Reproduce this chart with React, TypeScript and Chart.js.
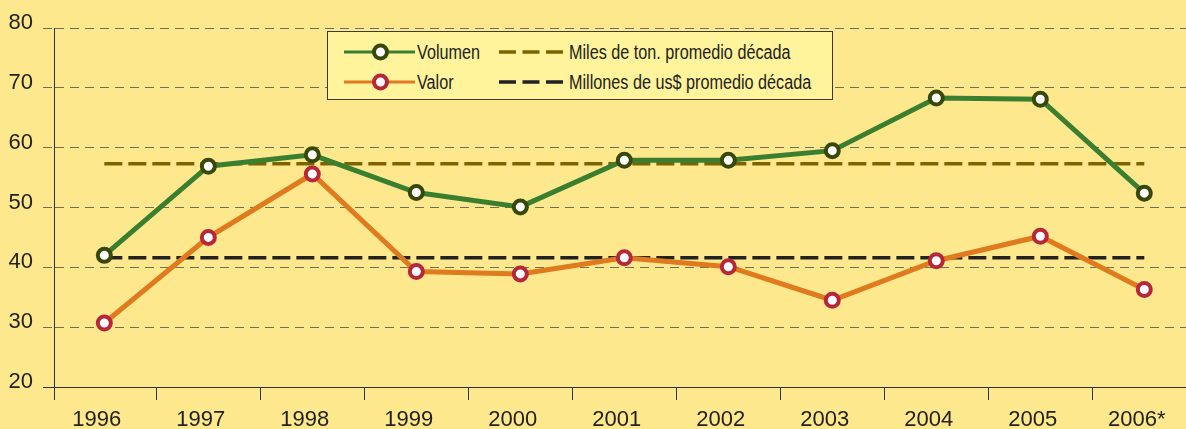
import React, { useEffect, useRef } from "react";
import { Chart, registerables } from "chart.js";

Chart.register(...registerables);

// ---- Data ----
const years = ["1996", "1997", "1998", "1999", "2000", "2001", "2002", "2003", "2004", "2005", "2006*"];
const volumen = [42.0, 56.9, 58.8, 52.5, 50.1, 57.9, 57.9, 59.5, 68.3, 68.1, 52.4];
const valor = [30.7, 45.0, 55.6, 39.3, 38.9, 41.6, 40.1, 34.5, 41.1, 45.2, 36.3];
const promedioVolumen = 57.3;
const promedioValor = 41.6;
const yTicks = [20, 30, 40, 50, 60, 70, 80];
const seriesNames = ["Volumen", "Valor", "Miles de ton. promedio década", "Millones de us$ promedio década"];

// ---- Styles ----
const BG = "#fee88d";
const LEGEND_BG = "#fff39b";
const GREEN = "#3a7f30";
const GREEN_MARK = "#384808";
const ORANGE = "#e07a1e";
const RED_MARK = "#b7273a";
const OLIVE = "#7c6300";
const BLACK = "#222222";
const AXIS = "#333333";
const GRID = "rgba(70,70,70,0.75)";
const TICK_FONT = "'Liberation Sans', Arial, Helvetica, sans-serif";
const LEGEND_FONT = "'Liberation Sans', Arial, Helvetica, sans-serif";

const legendItems = [
  { label: seriesNames[0], color: GREEN, marker: GREEN_MARK, dashed: false, left: 16, top: 5, w: 71 },
  { label: seriesNames[2], color: OLIVE, marker: null, dashed: true, left: 171, top: 5, w: 64 },
  { label: seriesNames[1], color: ORANGE, marker: RED_MARK, dashed: false, left: 16, top: 35, w: 71 },
  { label: seriesNames[3], color: BLACK, marker: null, dashed: true, left: 171, top: 35, w: 64 },
];

const axisExtension = {
  id: "axisExtension",
  afterDraw(chart: any) {
    const { ctx, chartArea } = chart;
    const x = Math.round(chartArea.left - 0.5) + 0.5;
    ctx.save();
    ctx.strokeStyle = AXIS;
    ctx.lineWidth = 1;
    ctx.beginPath();
    ctx.moveTo(x, chartArea.bottom);
    ctx.lineTo(x, chartArea.bottom + 13);
    ctx.stroke();
    ctx.restore();
  },
};

function Legend() {
  return (
    <div
      style={{
        position: "absolute",
        left: 327,
        top: 31,
        width: 506,
        height: 69,
        boxSizing: "border-box",
        border: "1px solid #3a3a3a",
        background: LEGEND_BG,
        fontFamily: LEGEND_FONT,
        fontSize: 20,
        color: "#222",
      }}
    >
      {legendItems.map((it) => (
        <div
          key={it.label}
          style={{
            position: "absolute",
            left: it.left,
            top: it.top,
            height: 30,
            display: "flex",
            alignItems: "center",
            whiteSpace: "nowrap",
          }}
        >
          <svg width={it.w} height={30} style={{ display: "block" }}>
            <line
              x1={0}
              y1={15}
              x2={it.w}
              y2={15}
              stroke={it.color}
              strokeWidth={it.dashed ? 3.5 : 3}
              strokeDasharray={it.dashed ? "17 6.5" : undefined}
            />
            {it.marker && <circle cx={it.w / 2 + 1} cy={15} r={6.5} fill="#ffffff" stroke={it.marker} strokeWidth={4} />}
          </svg>
          <span
            style={{
              marginLeft: it.dashed ? 6 : 2,
              lineHeight: "30px",
              display: "inline-block",
              transform: "scaleX(0.81)",
              transformOrigin: "left center",
            }}
          >
            {it.label}
          </span>
        </div>
      ))}
    </div>
  );
}

export default function App() {
  const canvasRef = useRef<HTMLCanvasElement | null>(null);

  useEffect(() => {
    if (!canvasRef.current) return;
    const pts = (arr: number[]) => arr.map((v, i) => ({ x: i, y: v }));
    const flat = (v: number) => years.map((_, i) => ({ x: i, y: v }));

    const chart = new Chart(canvasRef.current, {
      type: "line",
      data: {
        datasets: [
          {
            label: seriesNames[0],
            data: pts(volumen),
            borderColor: GREEN,
            borderWidth: 5,
            pointRadius: 6.5,
            pointBorderWidth: 4,
            pointBackgroundColor: "#ffffff",
            pointBorderColor: GREEN_MARK,
            tension: 0,
          },
          {
            label: seriesNames[1],
            data: pts(valor),
            borderColor: ORANGE,
            borderWidth: 5,
            pointRadius: 6.5,
            pointBorderWidth: 4,
            pointBackgroundColor: "#ffffff",
            pointBorderColor: RED_MARK,
            tension: 0,
          },
          {
            label: seriesNames[2],
            data: flat(promedioVolumen),
            borderColor: OLIVE,
            borderWidth: 3.5,
            borderDash: [18, 6],
            pointRadius: 0,
            tension: 0,
          },
          {
            label: seriesNames[3],
            data: flat(promedioValor),
            borderColor: BLACK,
            borderWidth: 3.5,
            borderDash: [18, 6],
            pointRadius: 0,
            tension: 0,
          },
        ],
      },
      options: {
        animation: false,
        responsive: true,
        maintainAspectRatio: false,
        layout: { autoPadding: false, padding: { top: 28, right: 0, bottom: 0, left: 0 } },
        plugins: { legend: { display: false }, tooltip: { enabled: false } },
        scales: {
          x: {
            type: "linear",
            min: -0.484,
            max: 10.401,
            afterBuildTicks: (s: any) => {
              s.ticks = years.map((_, i) => ({ value: i }));
            },
            afterFit: (s: any) => {
              s.height = 42;
              s.paddingLeft = 0;
              s.paddingRight = 0;
            },
            ticks: {
              callback: (v: any) => years[v],
              autoSkip: false,
              maxRotation: 0,
              padding: 7,
              labelOffset: -7.5,
              color: "#222",
              font: { family: TICK_FONT, size: 22 },
            },
            grid: {
              offset: true,
              drawOnChartArea: false,
              drawTicks: true,
              tickLength: 13,
              color: AXIS,
              tickColor: AXIS,
            },
            border: { display: true, color: AXIS, width: 1 },
          },
          y: {
            min: 20,
            max: 80,
            afterBuildTicks: (s: any) => {
              s.ticks = yTicks.map((v) => ({ value: v }));
            },
            afterFit: (s: any) => {
              s.width = 54;
              s.paddingLeft = 0;
              s.paddingRight = 0;
            },
            ticks: {
              padding: 10,
              labelOffset: -5,
              color: "#222",
              font: { family: TICK_FONT, size: 22 },
            },
            grid: {
              color: (c: any) => (c.tick && c.tick.value === 20 ? AXIS : GRID),
              tickColor: (c: any) => (c.tick && c.tick.value === 20 ? AXIS : GRID),
              tickLength: 11,
              tickBorderDash: (c: any) => (c.tick && c.tick.value === 20 ? [] : [9, 6]),
              lineWidth: 1,
            },
            border: {
              display: true,
              color: AXIS,
              width: 1,
              dash: (c: any) => (c.tick && c.tick.value === 20 ? [] : [9, 6]),
            },
          },
        },
      },
      plugins: [axisExtension],
    } as any);

    return () => chart.destroy();
  }, []);

  return (
    <div
      style={{
        position: "fixed",
        left: 0,
        top: 0,
        width: 1186,
        height: 429,
        background: BG,
        overflow: "hidden",
      }}
    >
      <div style={{ position: "absolute", left: 0, top: 0, width: 1186, height: 429 }}>
        <canvas ref={canvasRef} />
      </div>
      <Legend />
    </div>
  );
}
